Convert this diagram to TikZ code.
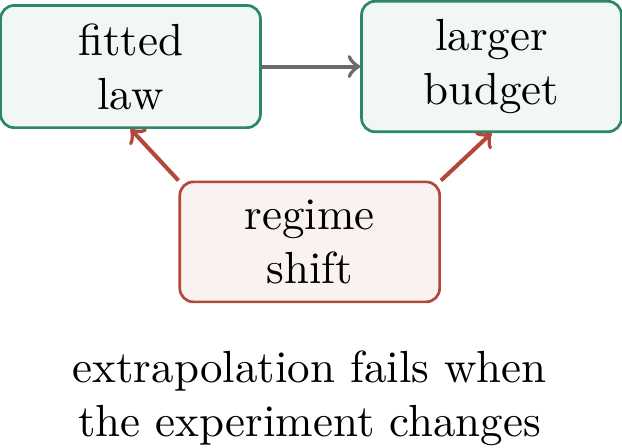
\documentclass[tikz,border=0pt]{standalone}
\definecolor{lawgreen}{RGB}{46,134,104}
\definecolor{shiftred}{RGB}{178,72,58}
\begin{document}
\begin{tikzpicture}[
  box/.style={draw=#1, fill=#1!7, rounded corners=3pt, line width=0.6pt,
    minimum width=2.03cm, inner ysep=4pt, align=center}]
\useasboundingbox (0,0) rectangle (4.86,-3.5);

\node[box=lawgreen] (fitted) at (1.02,-0.52) {fitted\\law};
\node[box=lawgreen] (budget) at (3.84,-0.52) {larger\\budget};
\node[box=shiftred] (shift) at (2.42,-1.89) {regime\\shift};
\node[align=center] (caption) at (2.42,-3.11) {extrapolation fails when\\the experiment changes};

\draw[->, line width=0.9pt, black!58] (fitted) -- (budget);
\draw[->, line width=0.9pt, shiftred] (shift.north west) -- (fitted.south);
\draw[->, line width=0.9pt, shiftred] (shift.north east) -- (budget.south);

\end{tikzpicture}
\end{document}
